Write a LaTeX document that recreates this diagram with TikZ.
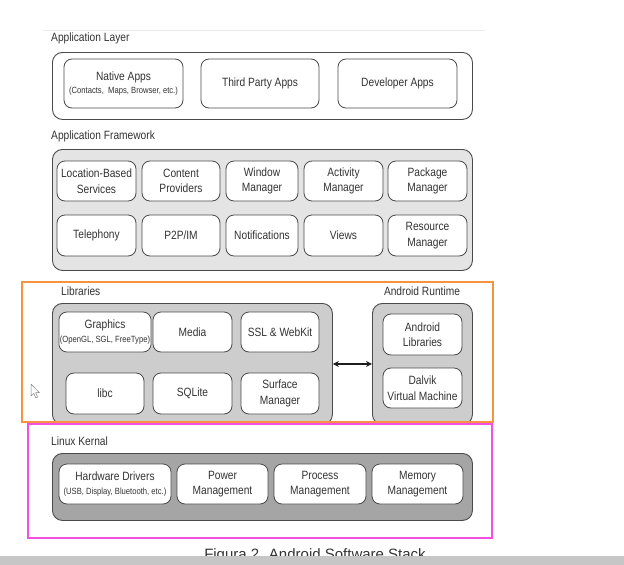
\documentclass[tikz,border=0pt]{standalone}
\usepackage{fontspec}
\setmainfont{Liberation Sans}[FakeStretch=0.85]
\newfontfamily\capfont{Liberation Sans}
\usetikzlibrary{arrows.meta}
\definecolor{txt}{HTML}{333333}
\definecolor{edge}{HTML}{4A4A4A}
\definecolor{fwfill}{HTML}{E4E4E4}
\definecolor{libfill}{HTML}{CDCDCD}
\definecolor{kfill}{HTML}{A5A5A5}
\definecolor{orangeframe}{HTML}{F7933E}
\definecolor{magframe}{HTML}{F24FE3}
\definecolor{barfill}{HTML}{C6C6C6}
\newcommand{\bigf}{\fontsize{12}{15.5}\selectfont}
\newcommand{\smallf}{\fontsize{9}{11}\selectfont}
\tikzset{
  outerbox/.style={draw=edge, line width=0.9pt, rounded corners=10pt, inner sep=0pt, anchor=north west},
  ibox/.style={draw=edge, line width=0.8pt, fill=white, rounded corners=8pt, align=center, inner sep=1pt, text=txt, font=\bigf},
  layerlabel/.style={text=txt, font=\bigf, inner sep=0pt},
  frame/.style={line width=2pt},
}
\begin{document}
\begin{tikzpicture}[x=1pt, y=-1pt]
\useasboundingbox (0,0) rectangle (624,565);
\fill[white] (0,0) rectangle (624,565);
% faint top rule
\draw[color={rgb,255:red,232;green,236;blue,240}, line width=0.8pt] (43,30) -- (485,30);

% ---------- Application layer
\node[layerlabel, anchor=west] (lblapp) at (51,38) {Application Layer};
\node[outerbox, fill=white, minimum width=420pt, minimum height=67pt] (applayer) at (52,52) {};
\node[ibox, minimum width=119pt, minimum height=49pt] (native) at (123.5,83.5)
  {Native Apps\\[-2pt]{\smallf(Contacts,\ \ Maps, Browser, etc.)}};
\node[ibox, minimum width=118pt, minimum height=49pt] (third) at (260,83.5) {Third Party Apps};
\node[ibox, minimum width=119pt, minimum height=49pt] (dev) at (397.5,83.5) {Developer Apps};

% ---------- Application framework
\node[layerlabel, anchor=west] (lblfw) at (51,136) {Application Framework};
\node[outerbox, fill=fwfill, minimum width=420pt, minimum height=121pt] (fw) at (52,149) {};
\node[ibox, minimum width=79pt, minimum height=40pt] (loc) at (96.5,181) {Location-Based\\Services};
\node[ibox, minimum width=78pt, minimum height=40pt] (cp) at (181,181) {Content\\Providers};
\node[ibox, minimum width=72pt, minimum height=40pt] (wm) at (262,181) {Window\\Manager};
\node[ibox, minimum width=79pt, minimum height=40pt] (am) at (343.5,181) {Activity\\Manager};
\node[ibox, minimum width=79pt, minimum height=40pt] (pm) at (427.5,181) {Package\\Manager};
\node[ibox, minimum width=79pt, minimum height=41pt] (tel) at (96.5,235.5) {Telephony};
\node[ibox, minimum width=78pt, minimum height=41pt] (p2p) at (181,235.5) {P2P/IM};
\node[ibox, minimum width=72pt, minimum height=41pt] (notif) at (262,235.5) {Notifications};
\node[ibox, minimum width=79pt, minimum height=41pt] (views) at (343.5,235.5) {Views};
\node[ibox, minimum width=79pt, minimum height=41pt] (rm) at (427.5,235.5) {Resource\\Manager};

% ---------- Libraries and runtime
\node[layerlabel, anchor=west] (lbllib) at (61,291) {Libraries};
\node[layerlabel] (lblrt) at (422,291) {Android Runtime};
\node[outerbox, fill=libfill, minimum width=280pt, minimum height=121pt] (lib) at (52,303) {};
\node[outerbox, fill=libfill, minimum width=100pt, minimum height=121pt] (rt) at (372,303) {};
\node[ibox, minimum width=92pt, minimum height=40pt] (gfx) at (105,332)
  {Graphics\\[-2pt]{\smallf(OpenGL, SGL, FreeType)}};
\node[ibox, minimum width=79pt, minimum height=40pt] (media) at (192.5,332) {Media};
\node[ibox, minimum width=78pt, minimum height=40pt] (ssl) at (280,332) {SSL \& WebKit};
\node[ibox, minimum width=78pt, minimum height=41pt] (libc) at (105,393.5) {libc};
\node[ibox, minimum width=79pt, minimum height=41pt] (sqlite) at (192.5,393.5) {SQLite};
\node[ibox, minimum width=78pt, minimum height=41pt] (surf) at (280,393.5) {Surface\\Manager};
\node[ibox, minimum width=79pt, minimum height=41pt] (alib) at (422.5,334.5) {Android\\Libraries};
\node[ibox, minimum width=79pt, minimum height=40pt] (dalvik) at (422.5,388) {Dalvik\\Virtual Machine};
\draw[{Stealth[length=6pt,width=6pt]}-{Stealth[length=6pt,width=6pt]}, line width=1.4pt, color={rgb,255:red,30;green,30;blue,30}]
  (lib.east) -- (rt.west);

% ---------- Linux kernel
\node[layerlabel, anchor=west] (lblk) at (51,441) {Linux Kernal};
\node[outerbox, fill=kfill, minimum width=420pt, minimum height=67pt] (kern) at (52,453) {};
\node[ibox, minimum width=112pt, minimum height=40pt] (hw) at (115,484)
  {Hardware Drivers\\[-2pt]{\smallf(USB, Display, Bluetooth, etc.)}};
\node[ibox, minimum width=91pt, minimum height=40pt] (power) at (222.5,484) {Power\\Management};
\node[ibox, minimum width=92pt, minimum height=40pt] (proc) at (320,484) {Process\\Management};
\node[ibox, minimum width=91pt, minimum height=40pt] (mem) at (417.5,484) {Memory\\Management};

% ---------- highlight frames
\draw[frame, draw=orangeframe] (22,282) rectangle (493,422);
\draw[frame, draw=magframe] (28,424) rectangle (492,538);

% ---------- mouse cursor
\draw[draw=gray, fill=white, line width=0.5pt, line join=round]
  (31,384) -- (31,396) -- (33.8,393.4) -- (35.8,398) -- (37.6,397.2) -- (35.7,392.7) -- (39.5,392.7) -- cycle;

% ---------- caption (cut off by bottom bar)
\node[font=\capfont\fontsize{15}{18}\selectfont, text=txt, anchor=base, inner sep=0pt] (cap) at (315,559.5)
  {Figura 2. Android Software Stack};
\fill[barfill] (0,556) rectangle (624,565);
\end{tikzpicture}
\end{document}
